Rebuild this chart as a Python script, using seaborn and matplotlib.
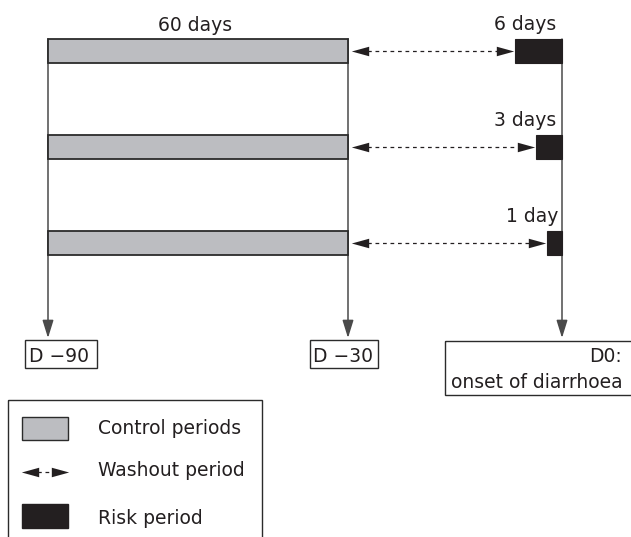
import matplotlib
matplotlib.use("Agg")
import matplotlib.pyplot as plt
import matplotlib.patches as patches
import seaborn as sns

# Datos del esquema (case-crossover)
risk_labels = ['6 days', '3 days', '1 day']
risk_days = [6, 3, 1]
control_label = '60 days'
day_marks = ['D \u221290', 'D \u221230', 'D0:\nonset of diarrhoea']
legend_labels = ['Control periods', 'Washout period', 'Risk period']

sns.set_theme(style="white")
plt.rcParams['font.family'] = ['DejaVu Sans']

GRAY = '#bcbdc1'
BLACK = '#231f20'
EDGE = '#2b2b2b'
LINE = '#4a4a4a'
FS = 13.5

# coordenadas en pixeles de la figura (eje y invertido)
x_d90, x_d30, x_d0 = 48, 348, 562
row_y = [51, 147, 243]
bar_h = 24
risk_px = {6: 47, 3: 26, 1: 15}

# puntas de flecha alargadas (marcadores propios)
HEAD_R = [(1, 0), (-1, 0.55), (-1, -0.55), (1, 0)]
HEAD_L = [(-1, 0), (1, 0.55), (1, -0.55), (-1, 0)]


def washout(ax, x0, x1, y):
    ax.plot([x0 + 8, x1 - 8], [y, y], color=BLACK, lw=0.9,
            linestyle=(0, (3, 3)), zorder=4)
    ax.plot([x0 + 8], [y], marker=HEAD_L, ms=12.5, color=BLACK, mec=BLACK, mew=0, zorder=5)
    ax.plot([x1 - 8], [y], marker=HEAD_R, ms=12.5, color=BLACK, mec=BLACK, mew=0, zorder=5)


fig = plt.figure(figsize=(6.31, 5.37), dpi=100)
ax = fig.add_axes([0, 0, 1, 1])
ax.set_xlim(0, 631)
ax.set_ylim(537, 0)
ax.axis('off')

# lineas verticales con flecha hacia las fechas
for x in [x_d90, x_d30, x_d0]:
    ax.annotate('', xy=(x, 338), xytext=(x, 39),
                arrowprops=dict(arrowstyle='-|>,head_length=0.9,head_width=0.28',
                                color=LINE, lw=1.1, shrinkA=0, shrinkB=0))

# periodos de control
ax.barh(row_y, [x_d30 - x_d90] * 3, left=x_d90, height=bar_h,
        color=GRAY, edgecolor=EDGE, linewidth=1.3, zorder=3)

# periodos de riesgo
widths = [risk_px[d] for d in risk_days]
ax.barh(row_y, widths, left=[x_d0 - w for w in widths], height=bar_h,
        color=BLACK, edgecolor=BLACK, linewidth=0.8, zorder=3)

# washout (flechas discontinuas)
for y, w, lab in zip(row_y, widths, risk_labels):
    washout(ax, x_d30 + 4, x_d0 - w - 2, y)
    ax.text(x_d0 - 6 if lab != '1 day' else x_d0 - 4, y - 21, lab,
            ha='right', va='baseline', fontsize=FS, color=BLACK)

ax.text((x_d90 + x_d30) / 2 - 3, 31, control_label, ha='center', va='baseline',
        fontsize=FS, color=BLACK)

# cajas de fechas
ax.add_patch(patches.Rectangle((25, 340), 72, 28, fill=False, ec=EDGE, lw=1))
ax.text(29, 362, day_marks[0], ha='left', va='baseline', fontsize=FS, color=BLACK)
ax.add_patch(patches.Rectangle((310, 340), 68, 28, fill=False, ec=EDGE, lw=1))
ax.text(313, 362, day_marks[1], ha='left', va='baseline', fontsize=FS, color=BLACK)
ax.add_patch(patches.Rectangle((445, 341), 190, 54, fill=False, ec=EDGE, lw=1))
d0_top, d0_bottom = day_marks[2].split('\n')
ax.text(622, 362, d0_top, ha='right', va='baseline', fontsize=FS, color=BLACK)
ax.text(451, 388, d0_bottom, ha='left', va='baseline', fontsize=FS, color=BLACK)

# leyenda
ax.add_patch(patches.Rectangle((8, 400), 254, 150, fill=False, ec=EDGE, lw=1))
ax.add_patch(patches.Rectangle((22, 417), 46, 23, fc=GRAY, ec=EDGE, lw=1))
washout(ax, 22, 68, 472)
ax.add_patch(patches.Rectangle((22, 504), 46, 24, fc=BLACK, ec=BLACK, lw=1))
for y, lab in zip([428, 471, 518], legend_labels):
    ax.text(98, y, lab, ha='left', va='center', fontsize=FS, color=BLACK)

fig.savefig('out.png', dpi=100, facecolor='white')
